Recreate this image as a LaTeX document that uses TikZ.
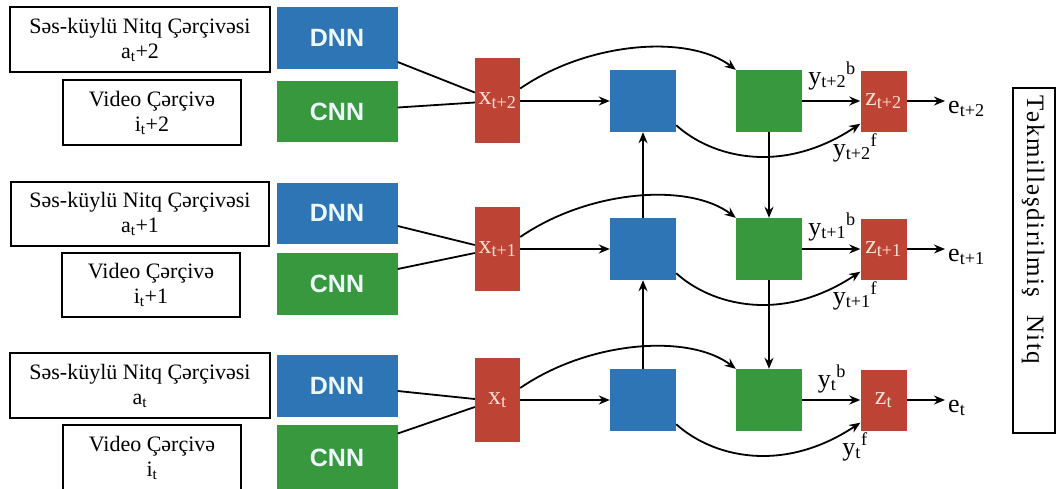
\documentclass[tikz,border=0pt]{standalone}
\usepackage{fontspec}
\setmainfont{Liberation Serif}
\setsansfont{Liberation Sans}
\newfontfamily\spacedserif{Liberation Serif}[LetterSpace=6]
\usetikzlibrary{arrows.meta}

\definecolor{nnblue}{RGB}{46,117,182}
\definecolor{nngreen}{RGB}{56,152,62}
\definecolor{nnred}{RGB}{189,68,52}
\definecolor{redtext}{RGB}{252,222,212}
\definecolor{nntext}{RGB}{236,248,250}

\begin{document}
\begin{tikzpicture}[x=1pt,y=-1pt,
  inbox/.style={draw, line width=1.4pt, fill=white, align=center, inner sep=0pt,
    font=\fontsize{22}{25}\selectfont},
  netbox/.style={inner sep=0pt, minimum width=121pt, text=nntext,
    font=\sffamily\bfseries\fontsize{25}{25}\selectfont},
  dnnbox/.style={netbox, fill=nnblue},
  cnnbox/.style={netbox, fill=nngreen},
  redbox/.style={fill=nnred, text=redtext, inner sep=0pt,
    font=\fontsize{26}{26}\selectfont},
  bluebox/.style={fill=nnblue, minimum width=66pt, minimum height=62pt, inner sep=0pt},
  greenbox/.style={fill=nngreen, minimum width=66pt, minimum height=62pt, inner sep=0pt},
  lbl/.style={inner sep=0pt, font=\fontsize{26}{26}\selectfont},
  ln/.style={line width=1.8pt},
  arr/.style={line width=1.8pt, -{Stealth[length=11pt,width=9pt]}}
]
\useasboundingbox (0,0) rectangle (1057,488);

% ---- input frames (left column) ----
\node[inbox, minimum width=260pt, minimum height=65pt] (a2) at (140,39.5)
  {Səs-küylü Nitq Çərçivəsi\\a\textsubscript{t}+2};
\node[inbox, minimum width=178pt, minimum height=65pt] (i2) at (152,112.5)
  {Video Çərçivə\\i\textsubscript{t}+2};
\node[inbox, minimum width=258pt, minimum height=64pt] (a1) at (140,214)
  {Səs-küylü Nitq Çərçivəsi\\a\textsubscript{t}+1};
\node[inbox, minimum width=178pt, minimum height=64pt] (i1) at (151,285)
  {Video Çərçivə\\i\textsubscript{t}+1};
\node[inbox, minimum width=260pt, minimum height=65pt] (a0) at (140,385.5)
  {Səs-küylü Nitq Çərçivəsi\\a\textsubscript{t}};
\node[inbox, minimum width=178pt, minimum height=65pt] (i0) at (152,457.5)
  {Video Çərçivə\\i\textsubscript{t}};

% ---- feature extractors ----
\node[dnnbox, minimum height=62pt] (d2) at (337,38) {DNN};
\node[cnnbox, minimum height=61pt] (c2) at (337,111.5) {CNN};
\node[dnnbox, minimum height=61pt] (d1) at (337,213) {DNN};
\node[cnnbox, minimum height=62pt] (c1) at (337,284) {CNN};
\node[dnnbox, minimum height=62pt] (d0) at (337,386) {DNN};
\node[cnnbox, minimum height=65pt] (c0) at (337,457.5) {CNN};

% ---- fused features ----
\node[redbox, minimum width=45pt, minimum height=85pt] (x2) at (497.5,100.5) {x\textsubscript{t+2}};
\node[redbox, minimum width=45pt, minimum height=84pt] (x1) at (497.5,249) {x\textsubscript{t+1}};
\node[redbox, minimum width=45pt, minimum height=84pt] (x0) at (497.5,400) {x\textsubscript{t}};

% feature extractors feed the fused node
\draw[ln] ([yshift=-24pt]d2.east) -- ([yshift=8pt]x2.west);
\draw[ln] ([yshift=4pt]c2.east) -- ([yshift=-2pt]x2.west);
\draw[ln] ([yshift=-13pt]d1.east) -- ([yshift=4pt]x1.west);
\draw[ln] ([yshift=15pt]c1.east) -- ([yshift=-4pt]x1.west);
\draw[ln] ([yshift=-5pt]d0.east) -- ([yshift=1pt]x0.west);
\draw[ln] ([yshift=24pt]c0.east) -- ([yshift=-7pt]x0.west);

% ---- recurrent part, one row per time step ----
\foreach \r/\rc/\sub/\byo in {2/101/t+2/-17, 1/249/t+1/-14, 0/400/t/-13} {
  \node[bluebox] (b\r) at (643,\rc) {};
  \node[greenbox] (g\r) at (769,\rc) {};
  \node[redbox, minimum width=46pt, minimum height=61pt] (z\r) at (883.5,\rc)
    {z\textsubscript{\sub}};
  \node[lbl, anchor=base west, inner sep=3pt] (e\r) at (945,\rc+12)
    {e\textsubscript{\sub}};
  \draw[arr] (x\r.east |- b\r.west) -- (b\r.west);
  \draw[arr] ([yshift=12pt]x\r.east) .. controls +(70,-48) and +(-46,-35) .. (g\r.north west);
  \draw[arr] ([yshift=7pt]b\r.south east) .. controls +(34,31) and +(-80,53)
    .. ([yshift=8pt]z\r.south west);
  \draw[arr] (g\r.east) -- (z\r.west);
  \draw[arr] (z\r.east) -- (z\r.east -| e\r.west);
  \node[lbl, anchor=base] (yb\r) at (832,\rc+\byo)
    {y\textsubscript{\sub}\textsuperscript{b}};
  \node[lbl, anchor=base] (yf\r) at (855,\rc+55)
    {y\textsubscript{\sub}\textsuperscript{f}};
}

% vertical links between time steps
\draw[arr] (b0.north) -- (b1.south);
\draw[arr] (b1.north) -- (b2.south);
\draw[arr] (g2.south) -- (g1.north);
\draw[arr] (g1.south) -- (g0.north);

% ---- output frame ----
\node[draw, line width=1.4pt, minimum width=42pt, minimum height=345pt, inner sep=0pt]
  (outbox) at (1034,260.5) {};
\node[rotate=-90, anchor=west, inner sep=0pt, font=\spacedserif\fontsize{25}{25}\selectfont]
  (outtxt) at (1033,95) {Təkmilləşdirilmiş\hspace{18pt}Nitq};
\end{tikzpicture}
\end{document}
